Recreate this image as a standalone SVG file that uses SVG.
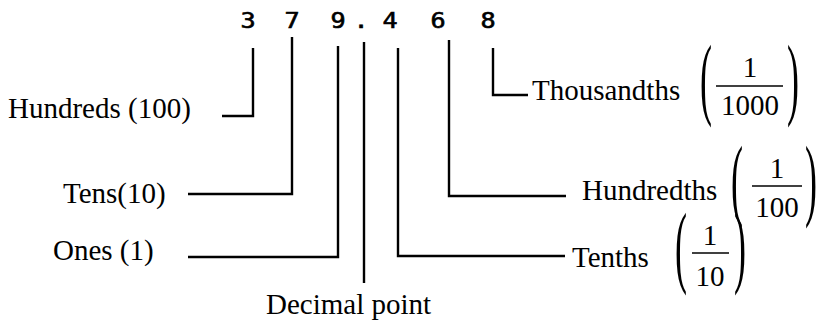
<svg xmlns="http://www.w3.org/2000/svg" width="821" height="323" viewBox="0 0 821 323">
<style>
.lbl{font-family:"Liberation Serif","Times New Roman",serif;font-size:29px;fill:#000}
.frac{font-family:"Liberation Serif","Times New Roman",serif;font-size:29px;fill:#000;text-anchor:middle}
.par{font-family:"Liberation Serif","Times New Roman",serif;font-size:36px;fill:#000}
.dig{font-family:"DejaVu Sans Mono","Liberation Mono",monospace;font-size:21px;fill:#000;stroke:#000;stroke-width:0.6;text-anchor:middle}
.ln{stroke:#000;stroke-width:2.4;fill:none}
.bar{stroke:#000;stroke-width:1.5}
</style>
<rect width="821" height="323" fill="#fff"/>
<g id="number">
<text class="dig" transform="translate(248,28) scale(1.2,1)">3</text>
<text class="dig" transform="translate(292,28) scale(1.2,1)">7</text>
<text class="dig" transform="translate(338,28) scale(1.2,1)">9</text>
<text class="dig" transform="translate(361,28) scale(1.2,1)">.</text>
<text class="dig" transform="translate(390,28) scale(1.2,1)">4</text>
<text class="dig" transform="translate(438,28) scale(1.2,1)">6</text>
<text class="dig" transform="translate(488,28) scale(1.2,1)">8</text>
</g>
<g id="connectors">
<polyline class="ln" points="253,48 253,116 222,116"/>
<polyline class="ln" points="292,37 292,194 188,194"/>
<polyline class="ln" points="338,46 338,257 188,257"/>
<line class="ln" x1="364" y1="42" x2="364" y2="283"/>
<polyline class="ln" points="398,48 398,256 565,256"/>
<polyline class="ln" points="449,40 449,196 566,196"/>
<polyline class="ln" points="493,48 493,95 528,95"/>
</g>
<g id="hundreds"><text class="lbl" x="8" y="118">Hundreds (100)</text></g>
<g id="tens"><text class="lbl" x="63" y="203">Tens(10)</text></g>
<g id="ones"><text class="lbl" x="53" y="260">Ones (1)</text></g>
<g id="decimal-point"><text class="lbl" x="266" y="314">Decimal point</text></g>
<g id="tenths">
<text class="lbl" x="572" y="267">Tenths</text>
<text class="par" transform="translate(675,276) scale(1,2.5)">(</text>
<text class="frac" x="710" y="245">1</text>
<line class="bar" x1="692" y1="253" x2="729" y2="253"/>
<text class="frac" x="710" y="286">10</text>
<text class="par" transform="translate(734,276) scale(1,2.5)">)</text>
</g>
<g id="hundredths">
<text class="lbl" x="582" y="200">Hundredths</text>
<text class="par" transform="translate(731,209) scale(1,2.5)">(</text>
<text class="frac" x="777" y="178">1</text>
<line class="bar" x1="752" y1="186" x2="802" y2="186"/>
<text class="frac" x="777" y="217">100</text>
<text class="par" transform="translate(805,209) scale(1,2.5)">)</text>
</g>
<g id="thousandths">
<text class="lbl" x="532" y="100">Thousandths</text>
<text class="par" transform="translate(700,108) scale(1,2.5)">(</text>
<text class="frac" x="750" y="77">1</text>
<line class="bar" x1="716" y1="86" x2="783" y2="86"/>
<text class="frac" x="750" y="115">1000</text>
<text class="par" transform="translate(787,108) scale(1,2.5)">)</text>
</g>
</svg>
